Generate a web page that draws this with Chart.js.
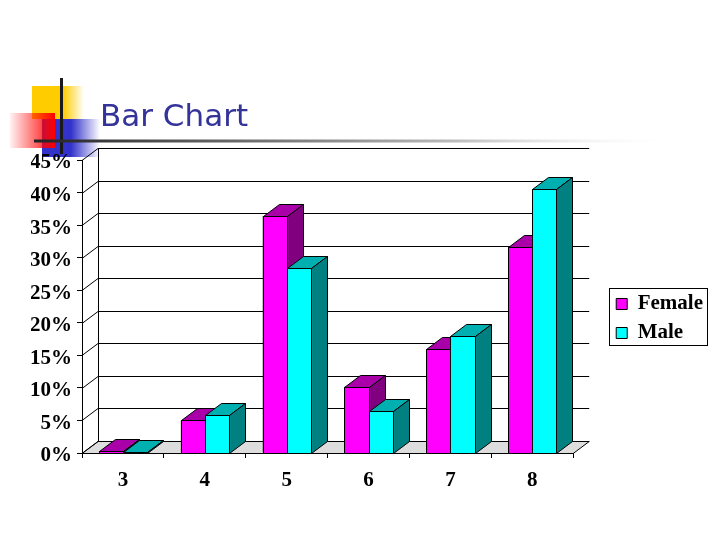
<!DOCTYPE html>
<html>
<head>
<meta charset="utf-8">
<title>Bar Chart</title>
<script src="https://cdn.jsdelivr.net/npm/chart.js@4.4.1/dist/chart.umd.min.js"></script>
<style>
  html, body { margin: 0; padding: 0; background: #fff; }
  #wrap { width: 720px; height: 540px; }
</style>
</head>
<body>
<div id="wrap"><canvas id="chart" width="720" height="540"></canvas></div>
<script>
// data
const categories = ['3', '4', '5', '6', '7', '8'];
const seriesNames = ['Female', 'Male'];
const femaleValues = [0.3, 5.0, 36.4, 10.2, 15.9, 31.6];
const maleValues = [0.1, 5.9, 28.4, 6.4, 18.0, 40.5];
const yTicks = [0, 5, 10, 15, 20, 25, 30, 35, 40, 45];

const faceColors = [
    { front: '#ff00ff', top: '#aa00aa', side: '#800080' },
    { front: '#00ffff', top: '#00b0b0', side: '#008080' }
];
const DX = 16, DY = 12; // depth of the fake 3D
const labelFont = { family: 'Liberation Serif', size: 21, weight: 'bold' };

function line(ctx, x1, y1, x2, y2) {
    ctx.beginPath();
    ctx.moveTo(x1, y1);
    ctx.lineTo(x2, y2);
    ctx.stroke();
}

function poly(ctx, pts, fill) {
    ctx.beginPath();
    ctx.moveTo(pts[0][0], pts[0][1]);
    for (let i = 1; i < pts.length; i++) ctx.lineTo(pts[i][0], pts[i][1]);
    ctx.closePath();
    ctx.fillStyle = fill;
    ctx.fill();
    ctx.stroke();
}

// slide ornaments in the top-left corner
function drawDecor(ctx) {
    let g = ctx.createLinearGradient(32, 0, 84, 0);
    g.addColorStop(0, '#ffcc00');
    g.addColorStop(0.6, '#ffcc00');
    g.addColorStop(1, 'rgba(255,204,0,0)');
    ctx.fillStyle = g;
    ctx.fillRect(32, 86, 52, 33);

    g = ctx.createLinearGradient(42, 0, 100, 0);
    g.addColorStop(0, '#3333cc');
    g.addColorStop(0.5, '#3333cc');
    g.addColorStop(1, 'rgba(51,51,204,0)');
    ctx.fillStyle = g;
    ctx.fillRect(42, 119, 58, 38);

    g = ctx.createLinearGradient(10, 0, 55, 0);
    g.addColorStop(0, 'rgba(255,0,0,0.05)');
    g.addColorStop(1, '#ff0000');
    ctx.fillStyle = g;
    ctx.fillRect(10, 113, 45, 35);

    ctx.fillStyle = '#1a1a1a';
    ctx.fillRect(60, 78, 3, 76);

    g = ctx.createLinearGradient(34, 0, 680, 0);
    g.addColorStop(0, '#222');
    g.addColorStop(0.3, '#666');
    g.addColorStop(0.65, '#bbb');
    g.addColorStop(1, 'rgba(255,255,255,0)');
    ctx.fillStyle = g;
    ctx.fillRect(34, 139.5, 646, 3);
}

const slidePlugin = {
    id: 'slide',
    beforeDraw(chart) {
        const ctx = chart.ctx;
        const { left, right, bottom } = chart.chartArea;
        const yScale = chart.scales.y;
        ctx.save();
        ctx.fillStyle = '#fff';
        ctx.fillRect(0, 0, chart.width, chart.height);
        drawDecor(ctx);

        ctx.fillStyle = '#333399';
        ctx.font = '31px "DejaVu Sans"';
        ctx.textBaseline = 'alphabetic';
        ctx.fillText('Bar Chart', 100, 126);

        ctx.strokeStyle = '#000';
        ctx.lineWidth = 1;
        const b = Math.round(bottom) + 0.5;
        // floor
        poly(ctx, [[left, b], [right, b], [right + DX, b - DY], [left + DX, b - DY]], '#dddddd');
        // side wall diagonals + back wall gridlines
        yTicks.forEach((v) => {
            const p = Math.round(yScale.getPixelForValue(v)) + 0.5;
            line(ctx, left, p, left + DX, p - DY);
            line(ctx, left + DX, p - DY, right + DX, p - DY);
        });
        const topPx = Math.round(yScale.getPixelForValue(yTicks[yTicks.length - 1])) + 0.5;
        line(ctx, left + DX + 0.5, topPx - DY, left + DX + 0.5, b - DY);
        ctx.restore();
    },
    afterDatasetsDraw(chart) {
        const ctx = chart.ctx;
        const metas = [0, 1].map((i) => chart.getDatasetMeta(i));
        ctx.save();
        ctx.strokeStyle = '#000';
        ctx.lineWidth = 1;
        categories.forEach((c, j) => {
            metas.forEach((meta, i) => {
                const bar = meta.data[j];
                const { x, y, base, width } = bar.getProps(['x', 'y', 'base', 'width'], true);
                const l = Math.round(x - width / 2) + 0.5;
                const r = Math.round(x + width / 2) + 0.5;
                const t = Math.round(y) + 0.5;
                const bt = Math.round(base) + 0.5;
                const col = faceColors[i];
                poly(ctx, [[l, t], [r, t], [r, bt], [l, bt]], col.front);
                poly(ctx, [[l, t], [l + DX, t - DY], [r + DX, t - DY], [r, t]], col.top);
                poly(ctx, [[r, t], [r + DX, t - DY], [r + DX, bt - DY], [r, bt]], col.side);
            });
        });
        ctx.restore();
    },
    afterDraw(chart) {
        const lg = chart.legend;
        const hb = lg.legendHitBoxes;
        if (!hb || hb.length < 2) return;
        const ctx = chart.ctx;
        ctx.save();
        ctx.strokeStyle = '#000';
        ctx.lineWidth = 1;
        const x1 = Math.round(hb[0].left - 7) + 0.5;
        const x2 = Math.round(hb[0].left + hb[0].width + 4) + 0.5;
        const y1 = Math.round(hb[0].top - 6) + 0.5;
        const y2 = Math.round(hb[1].top + hb[1].height + 1) + 0.5;
        ctx.strokeRect(x1, y1, x2 - x1, y2 - y1);
        ctx.restore();
    }
};

new Chart(document.getElementById('chart'), {
    type: 'bar',
    data: {
        labels: categories,
        datasets: [
            { label: seriesNames[0], data: femaleValues, backgroundColor: faceColors[0].front, borderColor: '#000', borderWidth: 1 },
            { label: seriesNames[1], data: maleValues, backgroundColor: faceColors[1].front, borderColor: '#000', borderWidth: 1 }
        ]
    },
    options: {
        responsive: false,
        animation: false,
        devicePixelRatio: 1,
        datasets: { bar: { categoryPercentage: 0.59, barPercentage: 1 } },
        layout: { padding: { top: 160, left: 31, right: 7, bottom: 42 } },
        plugins: {
            legend: {
                position: 'right',
                align: 'center',
                fullSize: false,
                onClick: null,
                // blank title only used to push the two entries down a little
                title: { display: true, text: ' ', padding: 0, font: { size: 20, lineHeight: '24px' } },
                labels: { boxWidth: 11, boxHeight: 11, padding: 8, color: '#000', font: labelFont }
            },
            tooltip: { enabled: false },
            title: { display: false }
        },
        scales: {
            x: {
                grid: { drawOnChartArea: false, tickLength: 5, color: '#000', offset: true },
                border: { color: '#000' },
                ticks: { color: '#000', padding: 10, font: labelFont },
                afterFit: (s) => { s.height = 45; }
            },
            y: {
                min: 0,
                max: 45,
                grid: { drawOnChartArea: false, tickLength: 5, color: '#000' },
                border: { color: '#000' },
                ticks: { color: '#000', padding: 5, labelOffset: 3, font: labelFont, callback: (v) => v + '%' },
                afterBuildTicks: (s) => { s.ticks = yTicks.map((v) => ({ value: v })); },
                afterFit: (s) => { s.width = 51; }
            },
            yR: {
                position: 'right',
                min: 0,
                max: 1,
                grid: { display: false },
                border: { display: false },
                ticks: { display: false },
                afterFit: (s) => { s.width = 35; }
            }
        }
    },
    plugins: [slidePlugin]
});
</script>
</body>
</html>
